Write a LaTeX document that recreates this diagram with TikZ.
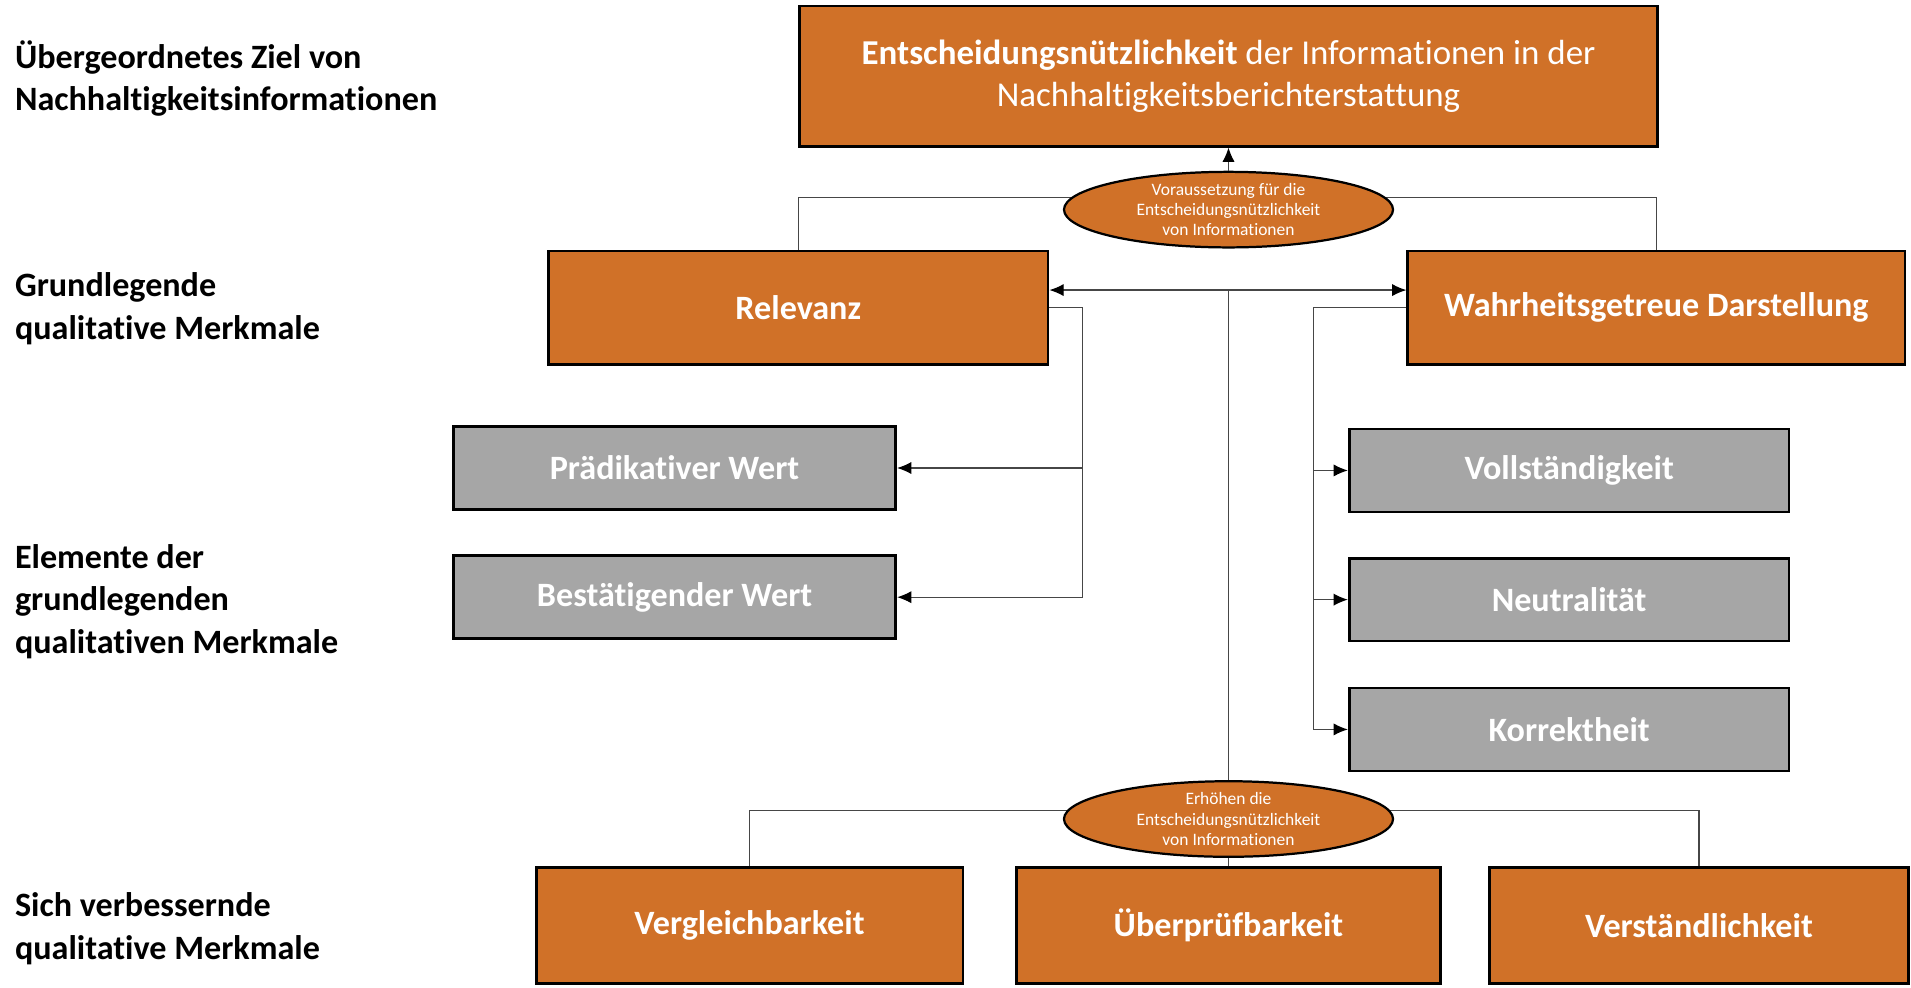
\documentclass[tikz,border=0pt]{standalone}
\usepackage{fontspec}
\setmainfont{Carlito}[Ligatures={NoCommon}]
\usetikzlibrary{shapes.geometric,arrows.meta,calc}
\definecolor{org}{RGB}{208,113,40}
\definecolor{gry}{RGB}{166,166,166}
\definecolor{lnc}{RGB}{70,70,70}
\pgfdeclarelayer{bg}
\pgfsetlayers{bg,main}
\begin{document}
\begin{tikzpicture}[x=0.6pt,y=-0.6pt,
  box/.style={draw=black, line width=1.3pt, text=white, inner sep=0pt, align=center,
    font=\fontsize{16.8}{21}\selectfont\bfseries},
  obox/.style={box, fill=org},
  gbox/.style={box, fill=gry, minimum width=217.8pt, minimum height=40.8pt},
  bbox/.style={obox, minimum height=57pt},
  oval/.style={ellipse, draw=black, line width=1.1pt, fill=org, text=white, inner sep=0pt,
    align=center, minimum width=162pt, minimum height=37.2pt,
    font=\fontsize{8.6}{10}\selectfont},
  lbl/.style={anchor=west, align=left, inner sep=0pt, font=\fontsize{16.8}{21}\selectfont\bfseries},
  conn/.style={draw=lnc, line width=0.6pt},
  arr/.style={conn, -{Latex[length=7pt,width=6pt,black]}}
]
\useasboundingbox (0,0) rectangle (1568,810);

% left level labels
\node[lbl] (l1) at (12,64.5) {Übergeordnetes Ziel von\\Nachhaltigkeitsinformationen};
\node[lbl] (l2) at (12,253.5) {Grundlegende\\qualitative Merkmale};
\node[lbl] (l3) at (12,493.5) {Elemente der\\grundlegenden\\qualitativen Merkmale};
\node[lbl] (l4) at (12,762) {Sich verbessernde\\qualitative Merkmale};

% nodes
\node[obox, minimum width=422.4pt, minimum height=69pt, font=\fontsize{17.2}{21}\selectfont] (top) at (1008,62.5)
  {\textbf{Entscheidungsnützlichkeit} der Informationen in der\\Nachhaltigkeitsberichterstattung};
\node[oval] (e1) at (1008,172) {Voraussetzung für die\\Entscheidungsnützlichkeit\\von Informationen};
\node[obox, minimum width=246pt, minimum height=55.8pt] (rel) at (655,252.5) {Relevanz};
\node[obox, minimum width=244.8pt, minimum height=55.8pt] (wahr) at (1359,252.5) {Wahrheitsgetreue Darstellung};
\node[gbox] (pw) at (553.5,384) {Prädikativer Wert};
\node[gbox] (bw) at (553.5,490) {Bestätigender Wert};
\node[gbox, minimum width=216.6pt] (voll) at (1287.5,386) {Vollständigkeit};
\node[gbox, minimum width=216.6pt] (neut) at (1287.5,492) {Neutralität};
\node[gbox, minimum width=216.6pt] (korr) at (1287.5,598.5) {Korrektheit};
\node[oval] (e2) at (1008,672) {Erhöhen die\\Entscheidungsnützlichkeit\\von Informationen};
\node[bbox, minimum width=210pt] (verg) at (615,759.5) {Vergleichbarkeit};
\node[bbox, minimum width=208.8pt] (uber) at (1008,759.5) {Überprüfbarkeit};
\node[bbox, minimum width=206.4pt] (vers) at (1394,759.5) {Verständlichkeit};

% helper coordinates
\coordinate (j) at (1008,238);
\coordinate (xr) at (888,0);
\coordinate (xw) at (1078,0);

\begin{pgfonlayer}{bg}
  \draw[conn] (rel.north) |- ($(e1.center)+(0,-10)$) -| (wahr.north);
  \draw[conn] (verg.north) |- ($(e2.center)+(0,-7)$) -| (vers.north);
\end{pgfonlayer}

\draw[arr] (e1.north) -- (top.south);
\draw[conn] (e2.north) -- (j);
\draw[arr] (j) -- (rel.east |- j);
\draw[arr] (j) -- (wahr.west |- j);
\draw[conn] (e2.south) -- (uber.north);

\draw[arr] (rel.east) -- (rel.east -| xr) |- (bw.east);
\draw[arr] (pw.east -| xr) -- (pw.east);

\draw[arr] (wahr.west) -- (wahr.west -| xw) |- (korr.west);
\draw[arr] (voll.west -| xw) -- (voll.west);
\draw[arr] (neut.west -| xw) -- (neut.west);
\end{tikzpicture}
\end{document}
